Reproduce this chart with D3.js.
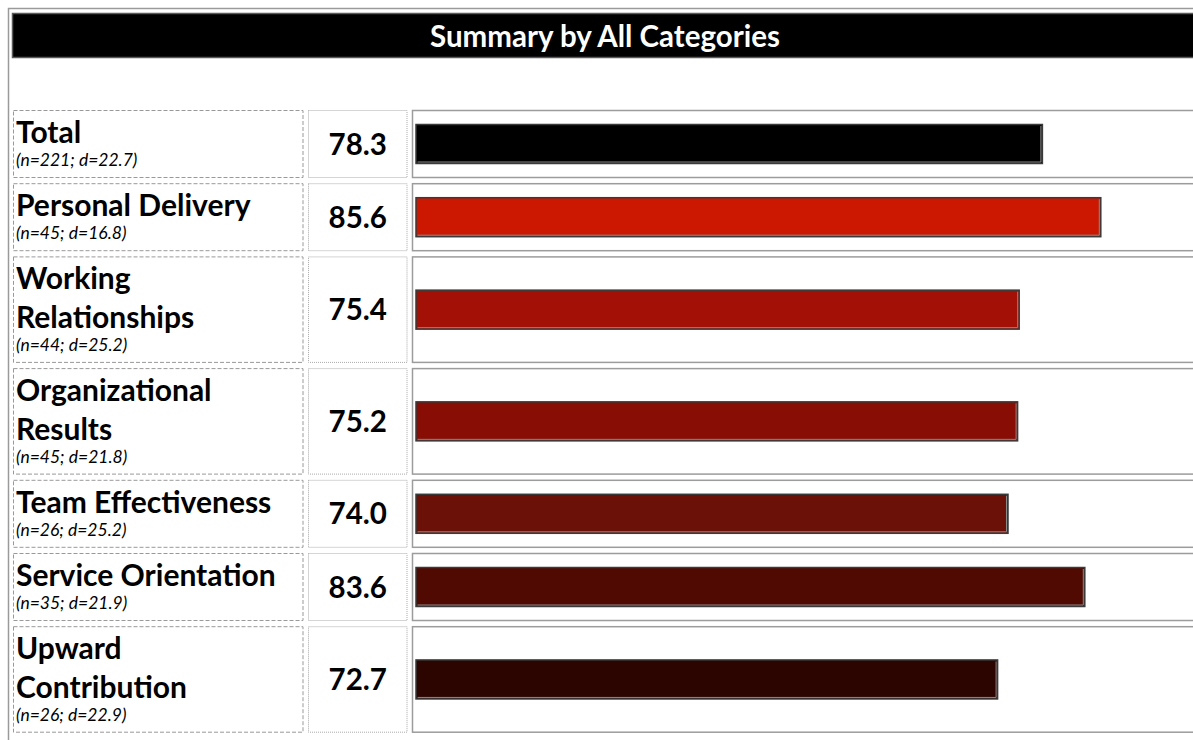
<!DOCTYPE html>
<html>
<head>
<meta charset="utf-8">
<script src="https://cdn.jsdelivr.net/npm/d3@7"></script>
<style>
  html, body { margin: 0; padding: 0; background: #fff; overflow: hidden; }
  svg { display: block; font-family: "Lato", "Open Sans", sans-serif; }
</style>
</head>
<body>
<svg id="chart" width="1193" height="740"></svg>
<script>
// Category summary data
const categories = [
  "Total",
  "Personal Delivery",
  "Working Relationships",
  "Organizational Results",
  "Team Effectiveness",
  "Service Orientation",
  "Upward Contribution"
];
const scores = [78.3, 85.6, 75.4, 75.2, 74.0, 83.6, 72.7];
const respondents = [221, 45, 44, 45, 26, 35, 26];
const deviations = [22.7, 16.8, 25.2, 21.8, 25.2, 21.9, 22.9];
const barColors = ["#000000", "#cc1800", "#a31006", "#880d04", "#6b1107", "#500a01", "#2d0500"];
const titleText = "Summary by All Categories";

const svg = d3.select("#chart");

// Outer frame and title bar
svg.append("rect")
  .attr("x", 8.5).attr("y", 8.5).attr("width", 1200).attr("height", 760)
  .attr("fill", "none").attr("stroke", "#9a9a9a").attr("stroke-width", 1.5);

svg.append("rect")
  .attr("x", 12.5).attr("y", 13.5).attr("width", 1190).attr("height", 44)
  .attr("fill", "#000").attr("stroke", "#5a5a5a").attr("stroke-width", 1.5);

svg.append("text")
  .attr("x", 605).attr("y", 47)
  .attr("text-anchor", "middle")
  .attr("fill", "#fff")
  .attr("font-weight", "bold")
  .attr("font-size", 29.5)
  .text(titleText);

// Column geometry
const labelCell = { x: 13.5, w: 289.5 };
const valueCell = { x: 308.5, w: 98.5 };
const barCell = { x: 412.5, w: 800 };
const barX0 = 416;
const barH = 39;
const labelSize = 30;
const wrapWidth = 272;

const x = d3.scaleLinear().domain([0, 100]).range([0, 800]);

// Wrap category names to the label cell width
const measure = svg.append("text").attr("font-weight", "bold").attr("font-size", labelSize).attr("visibility", "hidden");
function wrap(name) {
  measure.text(name);
  if (measure.node().getComputedTextLength() <= wrapWidth) return [name];
  const words = name.split(" ");
  const lines = [];
  let cur = "";
  words.forEach(w => {
    const trial = cur ? cur + " " + w : w;
    measure.text(trial);
    if (measure.node().getComputedTextLength() > wrapWidth && cur) { lines.push(cur); cur = w; }
    else cur = trial;
  });
  lines.push(cur);
  return lines;
}

const rows = categories.map((c, i) => ({
  name: c,
  lines: wrap(c),
  score: scores[i],
  n: respondents[i],
  d: deviations[i],
  color: barColors[i]
}));
measure.remove();

let y = 110;
rows.forEach(r => {
  r.h = 68 + (r.lines.length - 1) * 38.5;
  r.y = y;
  y += r.h + 5.2;
});

const g = svg.selectAll("g.row").data(rows).join("g").attr("class", "row")
  .attr("transform", d => `translate(0,${d.y})`);

// Label cell (dashed)
g.append("rect")
  .attr("x", labelCell.x).attr("y", 0.5)
  .attr("width", labelCell.w).attr("height", d => d.h - 1)
  .attr("fill", "none").attr("stroke", "#999").attr("stroke-width", 1)
  .attr("stroke-dasharray", "4,2");

// Value cell (dotted)
g.append("rect")
  .attr("x", valueCell.x).attr("y", 0.5)
  .attr("width", valueCell.w).attr("height", d => d.h - 1)
  .attr("fill", "none").attr("stroke", "#aaa").attr("stroke-width", 1)
  .attr("stroke-dasharray", "1,1");

// Bar cell (solid)
g.append("rect")
  .attr("x", barCell.x).attr("y", 0.5)
  .attr("width", barCell.w).attr("height", d => d.h - 1)
  .attr("fill", "none").attr("stroke", "#9c9c9c").attr("stroke-width", 1.5);

// Category name lines
g.each(function(d) {
  const sel = d3.select(this);
  d.lines.forEach((ln, k) => {
    sel.append("text")
      .attr("x", 16).attr("y", 33 + k * 38.5)
      .attr("font-weight", "bold").attr("font-size", labelSize)
      .attr("fill", "#000")
      .text(ln);
  });
  sel.append("text")
    .attr("x", 16).attr("y", 33 + (d.lines.length - 1) * 38.5 + 23)
    .attr("font-style", "italic").attr("font-size", 17.5)
    .attr("fill", "#000")
    .text(`(n=${d.n}; d=${d.d.toFixed(1)})`);
});

// Score value
g.append("text")
  .attr("x", valueCell.x + valueCell.w / 2)
  .attr("y", d => d.h / 2 + 10.5)
  .attr("text-anchor", "middle")
  .attr("font-weight", "bold").attr("font-size", 29.5)
  .attr("fill", "#000")
  .text(d => d.score.toFixed(1));

// Bars
g.append("rect")
  .attr("x", barX0)
  .attr("y", d => d.h / 2 - barH / 2)
  .attr("width", d => x(d.score))
  .attr("height", barH)
  .attr("fill", d => d.color)
  .attr("stroke", "#3a3a3a").attr("stroke-width", 1.5);

// Light inner edge on the bar's right and bottom sides
g.append("path")
  .attr("d", d => {
    const x1 = barX0 + x(d.score) - 1.5;
    const yT = d.h / 2 - barH / 2 + 1.5;
    const yB = d.h / 2 + barH / 2 - 1.5;
    return `M${x1},${yT}V${yB}H${barX0 + 1.5}`;
  })
  .attr("fill", "none").attr("stroke", "#8a8a8a").attr("stroke-width", 1);
</script>
</body>
</html>
